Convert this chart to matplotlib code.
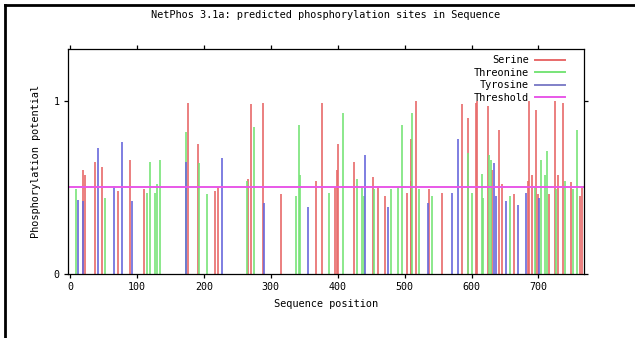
import matplotlib
matplotlib.use("Agg")
import matplotlib.pyplot as plt
from matplotlib.lines import Line2D

title = "NetPhos 3.1a: predicted phosphorylation sites in Sequence"
xlabel = "Sequence position"
ylabel = "Phosphorylation potential"
threshold = 0.5
xticks = [0, 100, 200, 300, 400, 500, 600, 700]
yticks = [0, 1]

serine_pos = [20, 22, 37, 48, 72, 89, 111, 177, 191, 216, 221, 266, 270, 289, 315,
              368, 377, 396, 399, 401, 425, 453, 460, 471, 504, 509, 510, 517, 536,
              556, 586, 594, 607, 608, 624, 631, 641, 645, 664, 684, 686, 690, 696,
              699, 716, 724, 729, 736, 749, 762, 765]
serine_val = [0.60, 0.57, 0.65, 0.62, 0.48, 0.66, 0.49, 0.99, 0.75, 0.48, 0.50, 0.55,
              0.98, 0.99, 0.46, 0.54, 0.99, 0.50, 0.60, 0.75, 0.65, 0.56, 0.51, 0.45,
              0.47, 0.54, 0.78, 1.00, 0.49, 0.47, 0.98, 0.90, 0.99, 1.00, 0.97, 0.60,
              0.83, 0.52, 0.46, 0.54, 1.00, 0.57, 0.95, 0.46, 0.46, 1.00, 0.57, 0.99,
              0.53, 0.45, 0.51]

threonine_pos = [9, 52, 115, 119, 127, 130, 135, 174, 192, 204, 265, 275, 337, 342,
                 343, 387, 408, 429, 436, 439, 454, 480, 490, 496, 511, 522, 541, 595,
                 601, 616, 617, 626, 629, 658, 695, 704, 709, 712, 726, 739, 751, 757]
threonine_val = [0.49, 0.44, 0.47, 0.65, 0.47, 0.52, 0.66, 0.82, 0.64, 0.46, 0.54,
                 0.85, 0.45, 0.86, 0.57, 0.47, 0.93, 0.55, 0.50, 0.45, 0.49, 0.49,
                 0.50, 0.86, 0.93, 0.49, 0.45, 0.70, 0.47, 0.58, 0.44, 0.69, 0.66,
                 0.45, 0.50, 0.66, 0.57, 0.71, 0.49, 0.54, 0.49, 0.83]

tyrosine_pos = [12, 20, 42, 66, 77, 92, 174, 227, 290, 356, 441, 475, 535, 571, 580,
                634, 636, 652, 669, 682, 701]
tyrosine_val = [0.43, 0.42, 0.73, 0.51, 0.76, 0.42, 0.65, 0.67, 0.41, 0.39, 0.69,
                0.39, 0.41, 0.47, 0.78, 0.64, 0.45, 0.42, 0.40, 0.47, 0.44]

RED = "#e86a6a"
GREEN = "#78e478"
BLUE = "#6868dc"
MAG = "#e858e8"

mono = "DejaVu Sans Mono"
fig = plt.figure(figsize=(6.35, 3.38), dpi=100)
ax = fig.add_axes([68 / 635, 1 - 274 / 338, (584 - 68) / 635, (274 - 49) / 338])

ax.vlines(serine_pos, 0, serine_val, color=RED, lw=1.2, label="Serine")
ax.vlines(threonine_pos, 0, threonine_val, color=GREEN, lw=1.2, label="Threonine")
ax.vlines(tyrosine_pos, 0, tyrosine_val, color=BLUE, lw=1.2, label="Tyrosine")
ax.axhline(threshold, color=MAG, lw=1.4, label="Threshold")

ax.set_xlim(-3, 768)
ax.set_ylim(0, 1.3)
ax.set_xticks(xticks)
ax.set_yticks(yticks)
ax.tick_params(direction="out", length=3, width=0.9, labelsize=7.2,
               top=True, right=True, labeltop=False, labelright=False, pad=3)
for lab in ax.get_xticklabels() + ax.get_yticklabels():
    lab.set_family(mono)
for s in ax.spines.values():
    s.set_linewidth(0.9)

ax.set_title(title, fontsize=7.4, family=mono, pad=22)
ax.set_xlabel(xlabel, fontsize=7.4, family=mono, labelpad=5)
ax.set_ylabel(ylabel, fontsize=7.4, family=mono, labelpad=9)

handles = [Line2D([], [], color=c, lw=1.4) for c in (RED, GREEN, "#8080c8", MAG)]
leg = ax.legend(handles, ["Serine", "Threonine", "Tyrosine", "Threshold"],
                loc="upper right", bbox_to_anchor=(0.975, 1.0), markerfirst=False,
                frameon=False, prop={"family": mono, "size": 7.4}, handlelength=2.9,
                handletextpad=0.6, labelspacing=0.25, borderaxespad=0.2)
for t in leg.get_texts():
    t.set_ha("right")

# outer black frame (top and left)
fig.add_artist(Line2D([5 / 635, 1], [1 - 5 / 338, 1 - 5 / 338], color="black", lw=2,
                      transform=fig.transFigure))
fig.add_artist(Line2D([5 / 635, 5 / 635], [0, 1 - 5 / 338], color="black", lw=2,
                      transform=fig.transFigure))

fig.savefig("out.png", dpi=100)
